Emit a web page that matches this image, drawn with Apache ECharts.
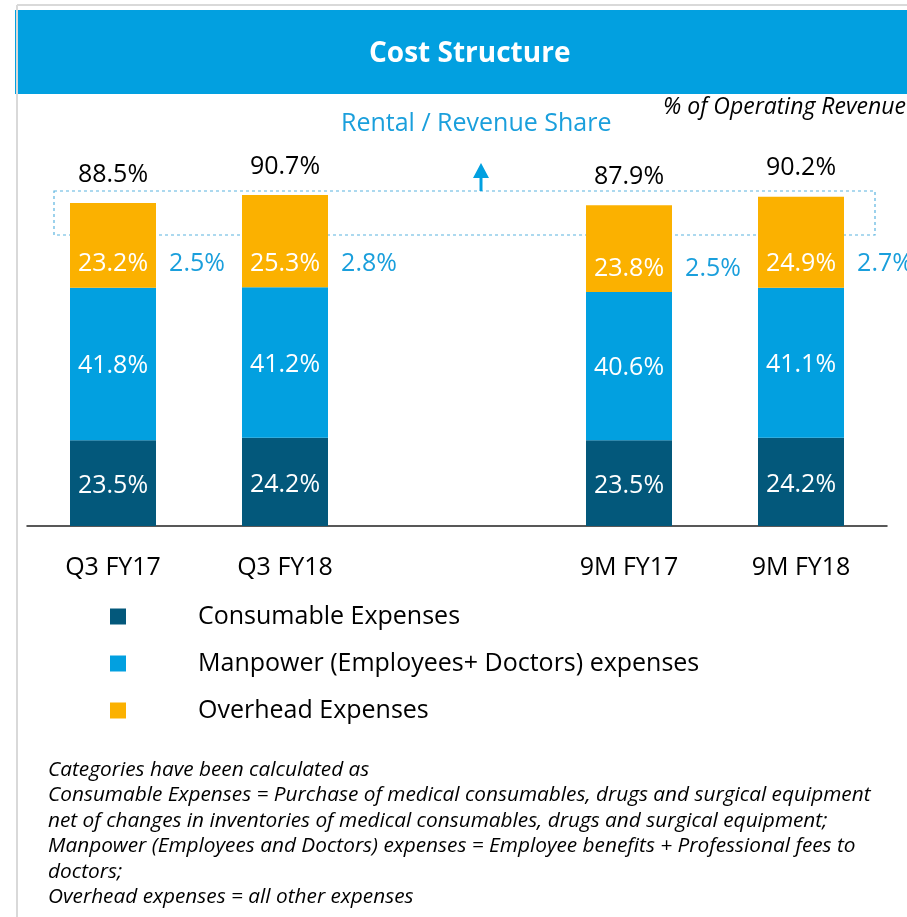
<!DOCTYPE html>
<html>
<head>
<meta charset="utf-8">
<script src="https://cdn.jsdelivr.net/npm/echarts@6/dist/echarts.min.js"></script>
<style>
  html, body { margin: 0; padding: 0; background: #fff; }
  #main { width: 907px; height: 917px; }
</style>
</head>
<body>
<div id="main"></div>
<script>
  // categories (blank slot keeps the gap between the quarter and 9M groups)
  var categories = ['Q3 FY17', 'Q3 FY18', '', '9M FY17', '9M FY18'];
  // % of operating revenue
  var consumable = [23.5, 24.2, '-', 23.5, 24.2];
  var manpower   = [41.8, 41.2, '-', 40.6, 41.1];
  var overhead   = [23.2, 25.3, '-', 23.8, 24.9];
  var totals     = [88.5, 90.7, '-', 87.9, 90.2];
  var rental     = [2.5, 2.8, '-', 2.5, 2.7];

  var seriesNames = ['Consumable Expenses', 'Manpower (Employees+ Doctors) expenses', 'Overhead Expenses'];
  var footnote = [
    'Categories have been calculated as',
    'Consumable Expenses = Purchase of medical consumables, drugs and surgical equipment',
    'net of changes in inventories of medical consumables, drugs and surgical equipment;',
    'Manpower (Employees and Doctors) expenses = Employee benefits + Professional fees to',
    'doctors;',
    'Overhead expenses = all other expenses'
  ];

  var FONT = '"Open Sans", "Noto Sans", sans-serif';
  var BLUE = '#02a0e0';

  // points for the total / rental labels
  var totalPts = [], rentalPts = [];
  categories.forEach(function (c, i) {
    if (totals[i] === '-') return;
    totalPts.push([c, totals[i]]);
    rentalPts.push({ value: [c, consumable[i] + manpower[i]], r: rental[i] });
  });

  var myChart = echarts.init(document.getElementById('main'));
  var option = {
    animation: false,
    textStyle: { fontFamily: FONT },
    title: {
      text: 'Cost Structure',
      left: 364,
      top: 35,
      textStyle: { color: '#fff', fontSize: 28, fontWeight: 'bold', fontFamily: FONT }
    },
    color: ['#03587b', BLUE, '#fbb100'],
    legend: {
      orient: 'vertical',
      left: 110,
      top: 604,
      padding: 0,
      itemWidth: 16,
      itemHeight: 16,
      itemGap: 22,
      icon: 'rect',
      data: seriesNames,
      formatter: function (name) { return '{t|' + name + '}'; },
      textStyle: {
        rich: { t: { fontSize: 25, color: '#000', padding: [0, 0, 0, 67], fontFamily: FONT } }
      }
    },
    grid: { left: 27, right: 20, top: 161, bottom: 391 },
    xAxis: {
      type: 'category',
      data: categories,
      axisTick: { show: false },
      axisLine: { lineStyle: { color: '#222', width: 1.5 } },
      axisLabel: { fontSize: 25, color: '#000', margin: 29, fontFamily: FONT }
    },
    yAxis: {
      type: 'value',
      min: 0,
      max: 100,
      show: false
    },
    series: [
      {
        name: seriesNames[0], type: 'bar', stack: 'cost', barWidth: 86,
        data: consumable,
        label: { show: true, position: 'inside', offset: [0, 3], color: '#fff', fontSize: 25, formatter: '{c}%' }
      },
      {
        name: seriesNames[1], type: 'bar', stack: 'cost', barWidth: 86,
        data: manpower,
        label: { show: true, position: 'inside', offset: [0, 2], color: '#fff', fontSize: 25, formatter: '{c}%' }
      },
      {
        name: seriesNames[2], type: 'bar', stack: 'cost', barWidth: 86,
        data: overhead,
        label: { show: true, position: 'insideBottom', distance: 11, color: '#fff', fontSize: 25, formatter: '{c}%' }
      },
      {
        name: 'Total', type: 'scatter', symbolSize: 0, silent: true,
        itemStyle: { opacity: 1 },
        data: totalPts,
        label: {
          show: true, position: 'top', distance: 16, color: '#000', fontSize: 25,
          formatter: function (p) { return p.value[1] + '%'; }
        }
      },
      {
        name: 'Rental / Revenue Share', type: 'scatter', symbolSize: 0, silent: true,
        itemStyle: { opacity: 1 },
        data: rentalPts,
        label: {
          show: true, position: 'top', distance: 11, offset: [84, 0], color: '#1a9fdc', fontSize: 25,
          formatter: function (p) { return p.data.r + '%'; }
        }
      }
    ],
    graphic: [
      { type: 'rect', z: -1, shape: { x: 15, y: 10, width: 892, height: 84 }, style: { fill: BLUE } },
      { type: 'line', shape: { x1: 17, y1: 5, x2: 907, y2: 5 }, style: { stroke: '#d9d9d9', lineWidth: 2 } },
      { type: 'line', shape: { x1: 17, y1: 5, x2: 17, y2: 917 }, style: { stroke: '#d9d9d9', lineWidth: 2 } },
      {
        type: 'text', left: 663, top: 96,
        style: { text: '% of Operating Revenue', fill: '#000', font: 'italic 23px ' + FONT }
      },
      {
        type: 'text', left: 341, top: 111,
        style: { text: 'Rental / Revenue Share', fill: '#1a9fdc', font: '25px ' + FONT }
      },
      {
        type: 'rect', shape: { x: 54, y: 191, width: 821, height: 44 },
        style: { fill: 'none', stroke: '#5ab4e0', lineWidth: 1.2, lineDash: [3, 3] }
      },
      { type: 'line', shape: { x1: 481, y1: 191, x2: 481, y2: 176 }, style: { stroke: BLUE, lineWidth: 3 } },
      { type: 'polygon', shape: { points: [[473, 178], [489, 178], [481, 163]] }, style: { fill: BLUE } },
      {
        type: 'text', left: 48, top: 757,
        style: { text: footnote.join('\n'), fill: '#000', font: 'italic 20.8px ' + FONT, lineHeight: 25.5 }
      }
    ]
  };
  myChart.setOption(option);
</script>
</body>
</html>
